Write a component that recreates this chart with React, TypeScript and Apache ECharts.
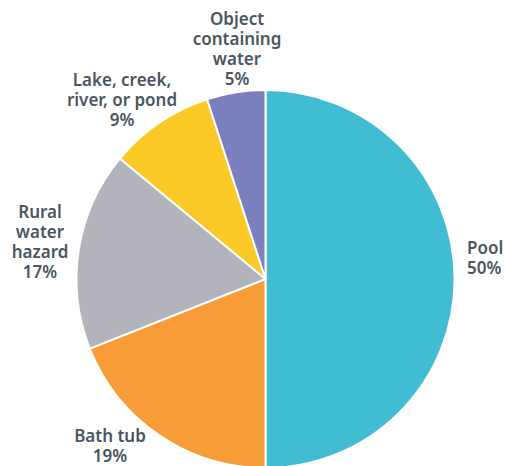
import React, { useEffect, useRef } from "react";
import * as echarts from "echarts";

const categories = ["Pool", "Bath tub", "Rural\nwater\nhazard", "Lake, creek,\nriver, or pond", "Object\ncontaining\nwater"];
const values = [50, 19, 17, 9, 5];
const colors = ["#40bcd3", "#f79c36", "#b3b3bc", "#fcca27", "#7c7fbd"];
const labelPos: { x: number; y: number; align: "left" | "center" }[] = [
  { x: 467, y: 257, align: "left" },
  { x: 110, y: 445, align: "center" },
  { x: 40, y: 241, align: "center" },
  { x: 122, y: 99, align: "center" },
  { x: 237, y: 48, align: "center" },
];

export default function App() {
  const ref = useRef<HTMLDivElement>(null);
  useEffect(() => {
    document.body.style.margin = "0";
    const chart = echarts.init(ref.current!, null, { renderer: "svg" });
    chart.setOption({
      animation: false,
      series: [
        {
          type: "pie",
          center: [265.5, 279],
          radius: 189,
          startAngle: 90,
          clockwise: true,
          avoidLabelOverlap: false,
          data: categories.map((name, i) => ({
            name,
            value: values[i],
            itemStyle: { color: colors[i] },
          })),
          itemStyle: { borderColor: "#ffffff", borderWidth: 2 },
          label: {
            show: true,
            position: "outside",
            formatter: "{b}\n{c}%",
            fontFamily: "Noto Sans",
            fontWeight: 600,
            fontSize: 17,
            lineHeight: 20,
            color: "#4b5661",
          },
          labelLine: { show: false },
          labelLayout: (p: any) => {
            const l = labelPos[p.dataIndex];
            return { x: l.x, y: l.y, align: l.align, verticalAlign: "middle" };
          },
          emphasis: { disabled: true },
        },
      ],
    });
    return () => chart.dispose();
  }, []);
  return <div ref={ref} style={{ width: 507, height: 466 }} />;
}
